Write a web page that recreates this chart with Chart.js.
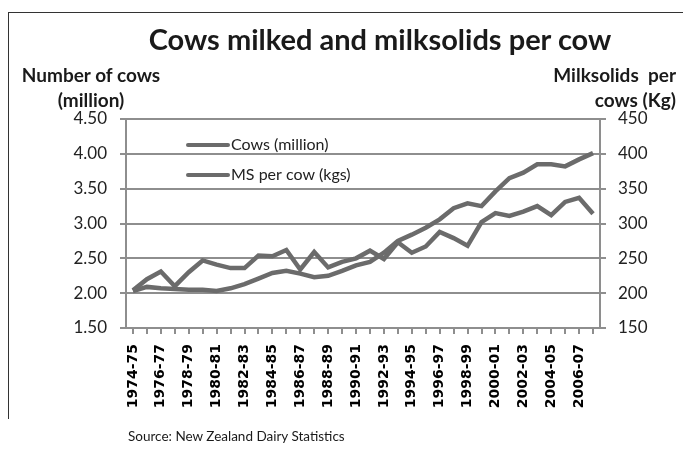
<!DOCTYPE html>
<html>
<head>
<meta charset="utf-8">
<title>Cows milked and milksolids per cow</title>
<script src="https://cdn.jsdelivr.net/npm/chart.js@4/dist/chart.umd.min.js"></script>
<style>
    body { margin: 0; background: #fff; }
    #wrap { position: relative; width: 683px; height: 449px; overflow: hidden; font-family: Lato, sans-serif; color: #1a1a1a; }
    #chart { position: absolute; left: 0; top: 0; }
    .frame { position: absolute; left: 8px; top: 12px; width: 700px; height: 406px; border-top: 1px solid #333; border-left: 1px solid #333; }
    .title { position: absolute; left: 80px; top: 21px; width: 600px; text-align: center; font-size: 29px; font-weight: bold; }
    .ytitle { position: absolute; font-size: 19px; font-weight: bold; line-height: 25px; }
    .ytitle.left { left: 0; top: 62px; width: 182px; text-align: center; }
    .ytitle.right { right: 7px; top: 62px; text-align: right; }
    .source { position: absolute; left: 128px; top: 428px; font-size: 13.5px; }
</style>
</head>
<body>
<div id="wrap">
    <div class="frame"></div>
    <canvas id="chart" width="683" height="449"></canvas>
    <div class="title">Cows milked and milksolids per cow</div>
    <div class="ytitle left">Number of cows<br>(million)</div>
    <div class="ytitle right">Milksolids&nbsp; per<br>cows (Kg)</div>
    <div class="source">Source: New Zealand Dairy Statistics</div>
</div>
<script>
// Seasons on the x axis
const seasons = [
    '1974-75', '1975-76', '1976-77', '1977-78', '1978-79', '1979-80', '1980-81', '1981-82',
    '1982-83', '1983-84', '1984-85', '1985-86', '1986-87', '1987-88', '1988-89', '1989-90',
    '1990-91', '1991-92', '1992-93', '1993-94', '1994-95', '1995-96', '1996-97', '1997-98',
    '1998-99', '1999-00', '2000-01', '2001-02', '2002-03', '2003-04', '2004-05', '2005-06',
    '2006-07', '2007-08'
];

// Cows milked (million), left axis
const cowsMillion = [
    2.03, 2.09, 2.07, 2.06, 2.05, 2.05, 2.03, 2.07,
    2.13, 2.21, 2.29, 2.32, 2.28, 2.23, 2.25, 2.32,
    2.40, 2.45, 2.58, 2.75, 2.84, 2.94, 3.06, 3.22,
    3.29, 3.25, 3.46, 3.65, 3.73, 3.85, 3.85, 3.82,
    3.92, 4.01
];

// Milksolids per cow (kg), right axis
const msPerCow = [
    204, 220, 231, 210, 230, 247, 241, 236,
    236, 254, 253, 262, 234, 259, 237, 245,
    250, 261, 249, 273, 258, 267, 288, 279,
    268, 302, 315, 311, 317, 325, 312, 331,
    337, 314
];

const leftTicks = [1.5, 2.0, 2.5, 3.0, 3.5, 4.0, 4.5];
const rightTicks = [150, 200, 250, 300, 350, 400, 450];

const lineGrey = '#6b6b6b';
const gridGrey = '#8e8e8e';

// legend drawn inside the plot, like the original
const insideLegend = {
    id: 'insideLegend',
    afterDatasetsDraw(chart) {
        const ctx = chart.ctx;
        chart.data.datasets.forEach(function(ds, i) {
            const y = 145 + i * 30;
            ctx.save();
            ctx.strokeStyle = ds.borderColor;
            ctx.lineWidth = 4;
            ctx.lineCap = 'round';
            ctx.beginPath();
            ctx.moveTo(188, y);
            ctx.lineTo(228, y);
            ctx.stroke();
            ctx.fillStyle = '#222';
            ctx.font = '16px Lato';
            ctx.textBaseline = 'middle';
            ctx.fillText(ds.label, 231, y);
            ctx.restore();
        });
    }
};

new Chart(document.getElementById('chart'), {
    type: 'line',
    data: {
        labels: seasons,
        datasets: [{
            label: 'Cows (million)',
            data: cowsMillion,
            yAxisID: 'y',
            borderColor: lineGrey,
            borderWidth: 4.5,
            pointRadius: 0,
            tension: 0
        }, {
            label: 'MS per cow (kgs)',
            data: msPerCow,
            yAxisID: 'y1',
            borderColor: lineGrey,
            borderWidth: 4.5,
            pointRadius: 0,
            tension: 0
        }]
    },
    options: {
        responsive: false,
        animation: false,
        layout: { padding: { top: 119, left: 0, right: 0, bottom: 0 } },
        plugins: {
            legend: { display: false },
            tooltip: { enabled: false }
        },
        scales: {
            x: {
                offset: true,
                grid: { drawOnChartArea: false, color: gridGrey, lineWidth: 2, tickLength: 6 },
                border: { color: gridGrey, width: 2 },
                ticks: {
                    autoSkip: false,
                    minRotation: 90,
                    maxRotation: 90,
                    padding: 10,
                    color: '#000',
                    font: { family: 'DejaVu Sans', size: 14, weight: 'bold' },
                    callback: function(value, index) {
                        return index % 2 === 0 ? seasons[index] : '';
                    }
                },
                afterFit: function(scale) { scale.height = 121; }
            },
            y: {
                position: 'left',
                min: leftTicks[0],
                max: leftTicks[leftTicks.length - 1],
                afterBuildTicks: function(scale) {
                    scale.ticks = leftTicks.map(function(v) { return { value: v }; });
                },
                grid: { color: gridGrey, lineWidth: 2, tickLength: 6 },
                border: { color: gridGrey, width: 2 },
                ticks: {
                    padding: 13,
                    color: '#222',
                    font: { family: 'Lato', size: 17 },
                    callback: function(value) { return value.toFixed(2); }
                },
                afterFit: function(scale) { scale.width = 126; }
            },
            y1: {
                position: 'right',
                min: rightTicks[0],
                max: rightTicks[rightTicks.length - 1],
                afterBuildTicks: function(scale) {
                    scale.ticks = rightTicks.map(function(v) { return { value: v }; });
                },
                grid: { drawOnChartArea: false, color: gridGrey, lineWidth: 2, tickLength: 6 },
                border: { color: gridGrey, width: 2 },
                ticks: {
                    padding: 12,
                    color: '#222',
                    font: { family: 'Lato', size: 17 }
                },
                afterFit: function(scale) { scale.width = 83; }
            }
        }
    },
    plugins: [insideLegend]
});
</script>
</body>
</html>
